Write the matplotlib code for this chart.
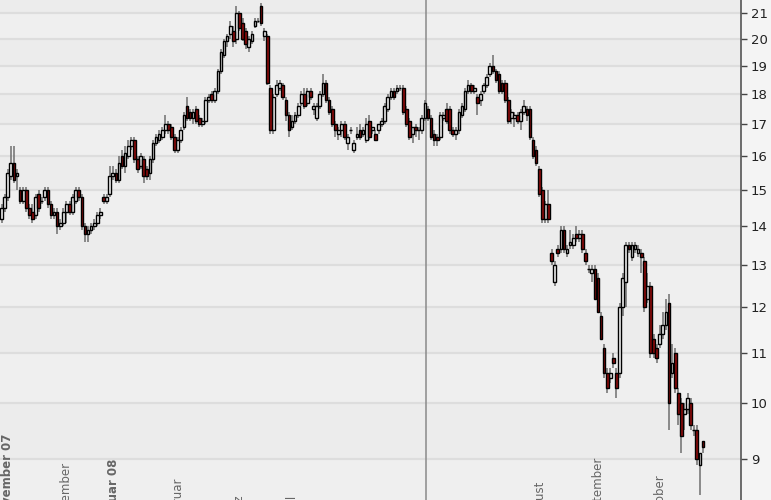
import matplotlib
matplotlib.use("Agg")
import matplotlib.pyplot as plt
import numpy as np

# OHLC der Tageskerzen (Nov 07 - Okt 08)
opens = [14.2, 14.5, 14.8, 15.4, 15.8, 15.4, 15.0, 14.7, 15.0, 14.5, 14.4, 14.3, 14.9, 14.7, 14.8, 15.0,
         14.6, 14.3, 14.4, 14.0, 14.1, 14.4, 14.6, 14.4, 14.7, 15.0, 14.8, 14.0, 13.8, 13.9, 14.0, 14.1,
         14.3, 14.8, 14.7, 14.9, 15.4, 15.5, 15.3, 16.0, 15.7, 16.0, 16.3, 16.5, 15.9, 15.7, 15.9, 15.6,
         15.5, 15.9, 16.4, 16.5, 16.6, 16.8, 17.0, 16.9, 16.6, 16.2, 16.5, 16.9, 17.6, 17.4, 17.2, 17.5,
         17.2, 17.0, 17.1, 17.8, 18.0, 17.8, 18.1, 18.8, 19.4, 19.9, 20.2, 20.3, 20.0, 21.0, 20.6, 20.3,
         19.7, 19.9, 20.5, 20.7, 21.3, 20.1, 20.1, 18.2, 16.8, 18.0, 18.2, 18.3, 17.8, 17.3, 16.9, 17.1,
         17.3, 17.7, 18.0, 17.7, 18.1, 17.5, 17.2, 17.6, 18.0, 18.4, 17.8, 17.5, 17.0, 16.7, 16.8, 17.0,
         16.4, 16.8, 16.2, 16.6, 16.8, 16.7, 16.5, 17.1, 16.8, 16.7, 16.8, 17.0, 17.1, 17.5, 17.9, 18.1,
         18.1, 18.2, 18.2, 17.5, 17.1, 16.7, 16.9, 16.8, 16.8, 17.2, 17.5, 17.2, 16.7, 16.6, 16.6, 17.2,
         17.5, 17.5, 16.8, 16.7, 16.8, 17.3, 17.5, 18.1, 18.3, 18.1, 17.9, 17.8, 18.1, 18.3, 18.7, 19.0,
         18.8, 18.7, 18.4, 18.4, 17.8, 17.2, 17.2, 17.3, 17.1, 17.4, 17.5, 17.5, 16.5, 16.2, 15.6, 15.0,
         14.2, 14.6, 13.3, 12.6, 13.4, 13.4, 13.9, 13.3, 13.5, 13.5, 13.8, 13.7, 13.8, 13.3, 12.9, 12.8,
         12.9, 12.7, 11.8, 11.1, 10.6, 10.5, 10.9, 10.6, 10.6, 12.0, 12.6, 13.5, 13.2, 13.4, 13.3, 13.3,
         13.1, 12.2, 12.5, 11.3, 11.1, 11.2, 11.4, 11.6, 12.1, 10.6, 11.0, 10.2, 10.0, 9.8, 9.9, 10.0,
         9.5, 9.5, 8.9, 9.3]
highs = [14.6, 14.9, 15.6, 16.3, 16.3, 15.6, 15.1, 15.1, 15.1, 14.6, 14.6, 14.9, 15.0, 14.8, 15.1, 15.1,
         14.7, 14.5, 14.5, 14.2, 14.5, 14.7, 14.7, 14.9, 15.1, 15.1, 14.9, 14.1, 14.0, 14.1, 14.2, 14.4,
         14.5, 14.9, 14.9, 15.7, 15.7, 15.6, 16.0, 16.2, 16.3, 16.5, 16.6, 16.6, 16.0, 16.1, 16.0, 15.7,
         16.0, 16.5, 16.7, 16.8, 16.9, 17.3, 17.1, 17.0, 16.7, 16.6, 16.9, 17.4, 17.9, 17.5, 17.5, 17.6,
         17.3, 17.2, 17.9, 18.0, 18.1, 18.2, 18.9, 19.6, 20.0, 20.2, 20.7, 20.5, 21.3, 21.1, 20.8, 20.4,
         20.1, 20.3, 20.8, 20.8, 21.4, 20.4, 20.2, 18.3, 18.0, 18.5, 18.5, 18.4, 17.9, 17.4, 17.3, 17.4,
         17.7, 18.1, 18.2, 18.2, 18.2, 17.7, 17.7, 18.1, 18.7, 18.5, 17.9, 17.6, 17.1, 16.9, 17.1, 17.1,
         16.7, 16.9, 16.5, 16.9, 17.0, 16.9, 17.2, 17.3, 16.9, 16.8, 17.0, 17.2, 17.7, 18.0, 18.2, 18.2,
         18.3, 18.3, 18.3, 17.6, 17.2, 16.9, 17.0, 16.9, 17.3, 17.8, 17.6, 17.3, 16.8, 16.7, 17.4, 17.4,
         17.7, 17.6, 16.9, 16.9, 17.5, 17.7, 18.2, 18.5, 18.4, 18.3, 18.0, 18.1, 18.4, 18.7, 19.1, 19.4,
         18.9, 18.8, 18.5, 18.5, 17.9, 17.5, 17.4, 17.4, 17.5, 17.8, 17.6, 17.6, 16.6, 16.3, 15.7, 15.1,
         14.7, 15.0, 13.4, 13.1, 13.5, 14.0, 14.0, 13.5, 13.9, 13.8, 14.0, 13.9, 13.9, 13.4, 13.0, 13.0,
         13.0, 12.8, 11.9, 11.2, 10.7, 10.7, 11.0, 10.7, 12.1, 12.8, 13.6, 13.6, 13.6, 13.6, 13.5, 13.4,
         13.2, 12.8, 12.6, 11.4, 11.2, 11.6, 11.9, 12.2, 12.3, 11.2, 11.1, 10.3, 10.1, 10.0, 10.2, 10.1,
         9.6, 9.6, 9.1, 9.3]
lows = [14.1, 14.4, 14.7, 15.3, 15.2, 15.0, 14.6, 14.6, 14.4, 14.2, 14.1, 14.2, 14.4, 14.6, 14.7, 14.5,
        14.2, 14.2, 13.8, 13.9, 14.0, 14.1, 14.3, 14.3, 14.6, 14.7, 13.9, 13.6, 13.6, 13.8, 13.9, 14.0,
        14.2, 14.6, 14.6, 14.8, 15.3, 15.2, 15.2, 15.6, 15.5, 15.9, 16.2, 15.8, 15.5, 15.6, 15.2, 15.3,
        15.3, 15.8, 16.3, 16.4, 16.5, 16.7, 16.7, 16.5, 16.1, 16.1, 16.4, 16.8, 17.1, 17.1, 17.0, 17.0,
        16.9, 16.9, 17.0, 17.7, 17.7, 17.7, 18.0, 18.7, 19.3, 19.7, 20.0, 19.7, 19.8, 20.3, 19.9, 19.6,
        19.5, 19.8, 20.4, 20.6, 20.5, 19.9, 18.3, 16.7, 16.7, 17.9, 18.1, 17.8, 17.1, 16.6, 16.8, 17.0,
        17.2, 17.6, 17.5, 17.6, 17.8, 17.3, 17.1, 17.5, 17.9, 17.7, 17.3, 16.9, 16.6, 16.5, 16.6, 16.5,
        16.2, 16.7, 16.1, 16.5, 16.5, 16.6, 16.4, 16.5, 16.7, 16.5, 16.7, 16.9, 17.0, 17.4, 17.8, 17.8,
        18.0, 18.1, 17.3, 16.9, 16.5, 16.4, 16.6, 16.5, 16.7, 17.1, 17.1, 16.5, 16.3, 16.3, 16.5, 17.1,
        17.0, 16.7, 16.6, 16.5, 16.7, 17.2, 17.4, 18.0, 18.0, 18.0, 17.3, 17.6, 18.0, 18.2, 18.6, 18.7,
        18.4, 18.0, 18.0, 17.7, 17.0, 17.0, 16.9, 17.0, 16.8, 17.3, 17.1, 16.5, 15.9, 15.7, 14.8, 14.1,
        14.1, 14.1, 13.0, 12.5, 13.2, 13.3, 13.3, 13.2, 13.4, 13.4, 13.6, 13.6, 13.3, 13.0, 12.8, 12.6,
        12.2, 11.9, 11.3, 10.5, 10.2, 10.4, 10.7, 10.1, 10.5, 11.8, 12.0, 13.3, 13.1, 13.3, 13.2, 12.8,
        11.9, 12.1, 10.9, 10.9, 10.8, 11.1, 11.3, 11.5, 9.5, 10.5, 10.2, 9.6, 9.1, 9.5, 9.8, 9.5,
        9.4, 8.9, 8.4, 9.1]
closes = [14.5, 14.8, 15.5, 15.8, 15.3, 15.5, 14.7, 15.0, 14.5, 14.3, 14.2, 14.8, 14.5, 14.7, 15.0, 14.6,
          14.3, 14.4, 14.0, 14.1, 14.4, 14.6, 14.4, 14.8, 15.0, 14.8, 14.0, 13.8, 13.9, 14.0, 14.1, 14.3,
          14.4, 14.7, 14.8, 15.4, 15.5, 15.3, 15.8, 15.7, 16.1, 16.3, 16.5, 15.9, 15.6, 16.0, 15.4, 15.4,
          15.9, 16.4, 16.6, 16.7, 16.8, 17.0, 16.8, 16.6, 16.2, 16.5, 16.8, 17.3, 17.2, 17.2, 17.4, 17.1,
          17.0, 17.1, 17.8, 17.9, 17.8, 18.1, 18.8, 19.5, 19.9, 20.1, 20.5, 19.9, 21.0, 20.4, 20.0, 19.8,
          20.0, 20.2, 20.7, 20.7, 20.6, 20.3, 18.4, 16.8, 17.9, 18.3, 18.4, 17.9, 17.3, 16.8, 17.1, 17.3,
          17.6, 18.0, 17.6, 18.1, 17.9, 17.6, 17.6, 18.0, 18.4, 17.8, 17.4, 17.0, 16.8, 16.8, 17.0, 16.6,
          16.6, 16.8, 16.4, 16.7, 16.6, 16.8, 17.0, 16.6, 16.9, 16.5, 17.0, 17.1, 17.6, 17.9, 18.1, 17.9,
          18.2, 18.2, 17.4, 17.0, 16.6, 16.9, 16.8, 16.8, 17.2, 17.7, 17.2, 16.6, 16.5, 16.5, 17.3, 17.3,
          17.1, 16.8, 16.7, 16.8, 17.4, 17.6, 18.1, 18.3, 18.1, 18.2, 17.7, 18.0, 18.3, 18.6, 19.0, 18.8,
          18.5, 18.1, 18.1, 17.8, 17.1, 17.4, 17.3, 17.1, 17.4, 17.6, 17.3, 16.6, 16.0, 15.8, 14.9, 14.2,
          14.6, 14.2, 13.1, 13.0, 13.3, 13.9, 13.4, 13.4, 13.6, 13.7, 13.7, 13.8, 13.4, 13.1, 12.9, 12.9,
          12.2, 11.9, 11.3, 10.6, 10.3, 10.6, 10.8, 10.3, 12.0, 12.7, 13.5, 13.4, 13.5, 13.5, 13.4, 13.2,
          12.0, 12.5, 11.0, 11.0, 10.9, 11.4, 11.6, 11.9, 10.0, 10.8, 10.3, 9.8, 9.4, 9.9, 10.1, 9.6,
          9.5, 9.0, 9.1, 9.2]

month_labels = ["November 07", "Dezember", "Januar 08", "Februar", "März", "April",
                "Mai", "Juni", "Juli", "August", "September", "Oktober"]
month_start = [2, 20.5, 36.5, 57, 76.5, 94, 114, 134, 154, 174.5, 193, 213]
year_start = ["November 07", "Januar 08"]
price_ticks = list(range(9, 22))
marker_idx = 137.4

x = np.arange(len(closes))
o = np.array(opens)
c = np.array(closes)
up = c >= o

fig = plt.figure(figsize=(7.71, 5.0), dpi=100, facecolor="#f4f4f4")
ax = fig.add_axes([0, 0, 741 / 771, 1])
ax.set_facecolor("#efefef")
ax.set_yscale("log")
ax.set_ylim(8.32, 21.53)
ax.set_xlim(-0.5, 239.3)

# abwechselnde Baender + Gitterlinien
for i, p in enumerate(price_ticks[:-1]):
    if i % 2 == 0:
        ax.axhspan(p, price_ticks[i + 1], color="#ececec", zorder=0, lw=0)
ax.axhspan(price_ticks[-1], 22, color="#ececec", zorder=0, lw=0)
for p in price_ticks:
    ax.axhline(p, color="#dddddd", lw=1.6, zorder=1)

ax.axvline(marker_idx, color="#8a8a8a", lw=1.1, zorder=2)

# Kerzen
ax.vlines(x, lows, highs, color="#6e6e6e", lw=1.1, zorder=3)
ax.bar(x[up], c[up] - o[up], bottom=o[up], width=0.86, color="#f6f6f6",
       edgecolor="black", linewidth=1.0, zorder=4)
ax.bar(x[~up], o[~up] - c[~up], bottom=c[~up], width=0.86, color="#8f0a0a",
       edgecolor="black", linewidth=1.0, zorder=4)

# Achse rechts
ax.yaxis.tick_right()
ax.yaxis.set_minor_locator(matplotlib.ticker.NullLocator())
ax.set_yticks(price_ticks)
ax.set_yticklabels([str(p) for p in price_ticks], fontsize=9.5, color="#222222")
ax.tick_params(axis="y", length=4, width=1, color="#444444", pad=3)
ax.set_xticks([])
for s in ["left", "top", "bottom"]:
    ax.spines[s].set_visible(False)
ax.spines["right"].set_color("#555555")
ax.spines["right"].set_linewidth(1.2)

# Monatsbeschriftung (senkrecht, unten abgeschnitten)
for lab, pos in zip(month_labels, month_start):
    ax.text(pos, -0.045, lab, transform=ax.get_xaxis_transform(), rotation=90,
            ha="center", va="bottom", fontsize=8.5, color="#666666",
            fontweight="bold" if lab in year_start else "normal", clip_on=False)

plt.savefig("out.png", dpi=100, facecolor=fig.get_facecolor())
plt.close()
